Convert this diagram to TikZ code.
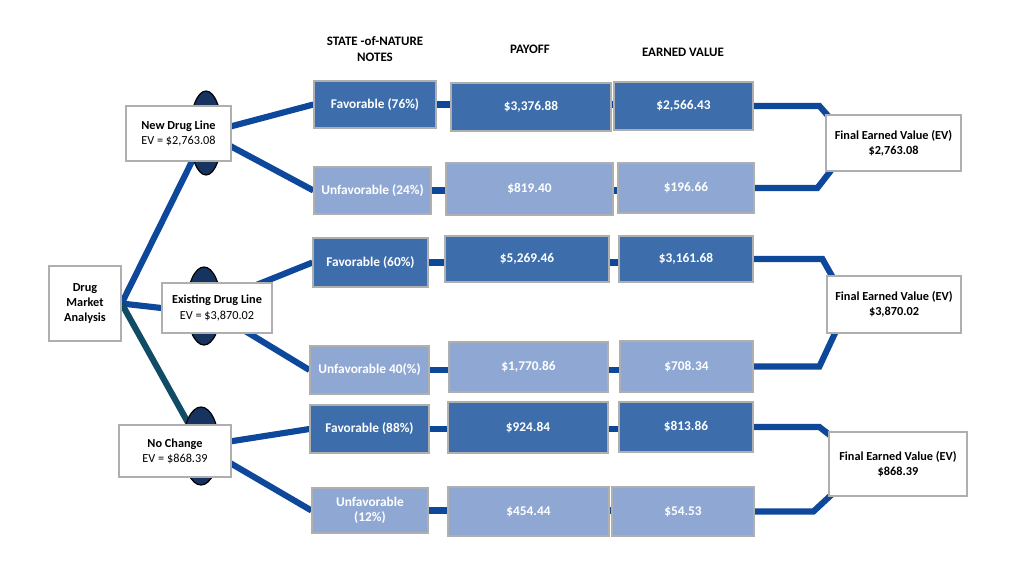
\documentclass[tikz,border=0pt]{standalone}
\usepackage{fontspec}
\setmainfont{Carlito}
\usetikzlibrary{calc,backgrounds,shapes.geometric}

\definecolor{favblue}{RGB}{61,110,171}
\definecolor{unfblue}{RGB}{143,168,211}
\definecolor{linkblue}{RGB}{14,72,155}
\definecolor{linkteal}{RGB}{16,76,102}
\definecolor{chancenavy}{RGB}{23,51,95}
\definecolor{edgegray}{RGB}{175,175,175}

\begin{document}
\begin{tikzpicture}[x=0.75pt,y=-0.75pt]
	\tikzset{box/.style={draw=edgegray, line width=0.9pt, inner sep=1pt, align=center, font=\fontsize{9.2}{11.4}\selectfont\bfseries}}
	\tikzset{plainbox/.style={box, fill=white}}
	\tikzset{favbox/.style={box, fill=favblue, text=white, font=\fontsize{10}{11.4}\selectfont\bfseries}}
	\tikzset{unfbox/.style={box, fill=unfblue, text=white, font=\fontsize{10}{11.4}\selectfont\bfseries}}
	\tikzset{chance/.style={ellipse, draw=black, line width=0.9pt, fill=chancenavy, inner sep=0pt}}
	\tikzset{link/.style={draw=linkblue, line width=4.6pt}}
	\tikzset{heading/.style={align=center, font=\fontsize{9.7}{12}\selectfont\bfseries}}

	\useasboundingbox (0,0) rectangle (1024,575);

	% column headings
	\node[heading] (hstate) at (375,49) {STATE -of-NATURE\\NOTES};
	\node[heading] (hpay) at (530,49) {PAYOFF};
	\node[heading] (hev) at (683,52) {EARNED VALUE};

	% chance ovals
	\node[chance, minimum width=24pt, minimum height=63pt] (c1) at (206,133) {};
	\node[chance, minimum width=25.5pt, minimum height=58.5pt] (c2) at (204,306) {};
	\node[chance, minimum width=27pt, minimum height=58.5pt] (c3) at (201,446) {};

	% decision boxes
	\node[plainbox, minimum width=54pt, minimum height=56.25pt] (root) at (85,303.5) {Drug\\Market\\Analysis};
	\node[plainbox, minimum width=78.75pt, minimum height=41.25pt] (newline) at (178.5,133.5) {New Drug Line\\\mdseries EV = \$2,763.08};
	\node[plainbox, minimum width=82.5pt, minimum height=37.5pt] (oldline) at (217,308) {Existing Drug Line\\\mdseries EV = \$3,870.02};
	\node[plainbox, minimum width=84pt, minimum height=39pt] (nochange) at (175,451) {No Change\\\mdseries EV = \$868.39};

	% states of nature
	\node[favbox, minimum width=91.5pt, minimum height=35.25pt] (s1) at (375,104.5) {Favorable (76\%)};
	\node[unfbox, minimum width=87.75pt, minimum height=35.25pt] (s2) at (372.5,190.5) {Unfavorable (24\%)};
	\node[favbox, minimum width=86.25pt, minimum height=36.75pt] (s3) at (370.5,262.5) {Favorable (60\%)};
	\node[unfbox, minimum width=89.25pt, minimum height=36pt] (s4) at (369.5,370) {Unfavorable 40(\%)};
	\node[favbox, minimum width=89.25pt, minimum height=36pt] (s5) at (369.5,429) {Favorable (88\%)};
	\node[unfbox, minimum width=87pt, minimum height=33.75pt] (s6) at (370,510.5) {Unfavorable\\(12\%)};

	% payoffs
	\node[favbox, minimum width=120pt, minimum height=36pt] (p1) at (531,107) {\$3,376.88};
	\node[unfbox, minimum width=125.25pt, minimum height=39pt] (p2) at (529.5,189) {\$819.40};
	\node[favbox, minimum width=123pt, minimum height=34.5pt] (p3) at (527,259) {\$5,269.46};
	\node[unfbox, minimum width=119.25pt, minimum height=37.5pt] (p4) at (528.5,367) {\$1,770.86};
	\node[favbox, minimum width=120pt, minimum height=38.25pt] (p5) at (528,427.5) {\$924.84};
	\node[unfbox, minimum width=120.75pt, minimum height=36.75pt] (p6) at (528.5,511.5) {\$454.44};

	% earned values
	\node[favbox, minimum width=104.25pt, minimum height=36pt] (e1) at (683.5,106) {\$2,566.43};
	\node[unfbox, minimum width=102pt, minimum height=37.5pt] (e2) at (686,188) {\$196.66};
	\node[favbox, minimum width=100.5pt, minimum height=34.5pt] (e3) at (686,259) {\$3,161.68};
	\node[unfbox, minimum width=99.75pt, minimum height=38.25pt] (e4) at (686.5,366.5) {\$708.34};
	\node[favbox, minimum width=100.5pt, minimum height=37.5pt] (e5) at (686,427) {\$813.86};
	\node[unfbox, minimum width=106.5pt, minimum height=36.75pt] (e6) at (683,511.5) {\$54.53};

	% final values
	\node[plainbox, minimum width=101.25pt, minimum height=42pt] (f1) at (893.5,143) {Final Earned Value (EV)\\\$2,763.08};
	\node[plainbox, minimum width=100.5pt, minimum height=42.75pt] (f2) at (894,304.5) {Final Earned Value (EV)\\\$3,870.02};
	\node[plainbox, minimum width=103.5pt, minimum height=48pt] (f3) at (898,464) {Final Earned Value (EV)\\\$868.39};

	\begin{scope}[on background layer]
		\draw[link] (root.east) -- (c1.center);
		\draw[link] (root.east) -- (oldline.west);
		\draw[link, draw=linkteal] (root.east) -- (c3.center);

		\draw[link] (c1.center) -- (s1.west);
		\draw[link] (c1.center) -- (s2.west);
		\draw[link] (c2.center) -- (s3.west);
		\draw[link] (c2.center) -- (s4.west);
		\draw[link] (c3.center) -- (s5.west);
		\draw[link] (c3.center) -- (s6.west);

		\foreach \i in {1,...,6}
			\draw[link] (s\i.east) -- (s\i.east -| e\i.west);

		\draw[link] (e1.east) -- ($(e1.east -| f1.west)+(-6,0)$) -- ($(f1.north west)+(12,12)$);
		\draw[link] (e2.east) -- ($(e2.east -| f1.west)+(-8,0)$) -- ($(f1.south west)+(14,-12)$);
		\draw[link] (e3.east) -- ($(e3.east -| f2.west)+(-4,0)$) -- ($(f2.north west)+(12,12)$);
		\draw[link] (e4.east) -- ($(e4.east -| f2.west)+(-7,0)$) -- ($(f2.south west)+(14,-12)$);
		\draw[link] (e5.east) -- ($(e5.east -| f3.west)+(-9,0)$) -- ($(f3.north west)+(12,12)$);
		\draw[link] (e6.east) -- ($(e6.east -| f3.west)+(-15,0)$) -- ($(f3.south west)+(14,-12)$);
	\end{scope}
\end{tikzpicture}
\end{document}
